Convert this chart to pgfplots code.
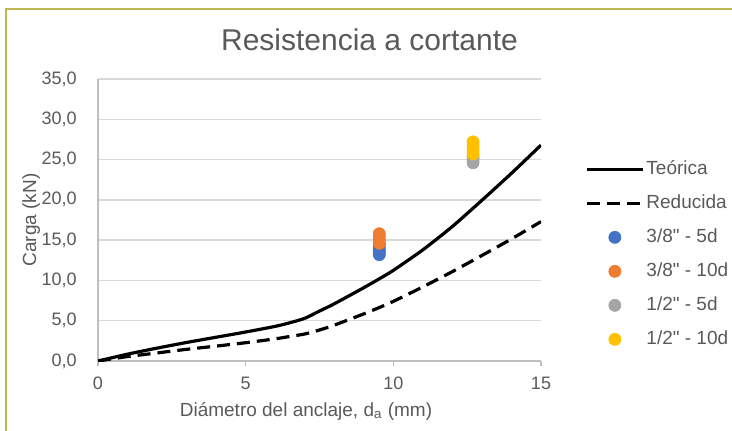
\documentclass[border=0pt]{standalone}
\usepackage{fontspec}
\setmainfont{Liberation Sans}
\usepackage{pgfplots}
\pgfplotsset{compat=1.18}

\definecolor{txtgray}{HTML}{595959}
\definecolor{gridgray}{HTML}{D9D9D9}
\definecolor{axgray}{HTML}{BFBFBF}
\definecolor{framecol}{RGB}{191,183,84}
\definecolor{sblue}{HTML}{4472C4}
\definecolor{sorange}{HTML}{ED7D31}
\definecolor{sgray}{HTML}{A5A5A5}
\definecolor{syellow}{HTML}{FFC000}

\begin{document}
\begin{tikzpicture}
\useasboundingbox (0pt,0pt) rectangle (366pt,215pt);
% chart frame (only top and left edges are inside the picture)
\draw[framecol, line width=1pt] (3pt,-20pt) -- (3pt,210.5pt) -- (400pt,210.5pt);

\begin{axis}[
    at={(49pt,34.5pt)}, anchor=south west,
    scale only axis,
    width=221.5pt, height=141pt,
    xmin=0, xmax=15, ymin=0, ymax=35,
    xtick={0,5,10,15},
    ytick={0,5,...,35},
    axis lines=left,
    axis line style={-, draw=axgray, line width=0.75pt},
    tick align=outside,
    major tick length=2.5pt,
    xtick style={draw=axgray, line width=0.75pt},
    ytick style={draw=none},
    ymajorgrids,
    major grid style={draw=gridgray, line width=0.75pt},
    tick label style={font=\fontsize{9}{10}\selectfont, text=txtgray},
    /pgf/number format/assume math mode=true,
    yticklabel style={/pgf/number format/fixed, /pgf/number format/fixed zerofill,
        /pgf/number format/precision=1, /pgf/number format/use comma,
        inner sep=0pt, anchor=east, xshift=-8pt},
    xticklabel style={inner sep=0pt, text height=6.5pt, text depth=0pt, anchor=north, yshift=-4.8pt},
    xlabel={Diámetro del anclaje, d\textsubscript{a} (mm)},
    ylabel={Carga (kN)},
    label style={font=\fontsize{9.5}{11}\selectfont, text=txtgray},
    xlabel style={at={(axis description cs:0.4695,0)}, anchor=center, yshift=-25pt},
    ylabel style={at={(axis description cs:-0.151,0.5)}, anchor=center},
    legend image code/.code={\draw[mark repeat=2,mark phase=2,#1] plot coordinates {(0pt,0pt)(14pt,0pt)(28pt,0pt)};},
    legend cell align=left,
    legend style={at={(1.099,0.713)}, anchor=north west, draw=none, fill=none,
        inner sep=0pt, font=\fontsize{9.5}{11}\selectfont, text=txtgray,
        row sep=8pt,
        nodes={inner sep=0pt, text height=7pt, text depth=2pt}},
    /tikz/every odd column/.append style={column sep=1pt},
]
\addplot[black, line width=1.6pt, smooth, tension=0.4] coordinates {
    (0,0) (1,0.85) (2,1.6) (3,2.3) (4,2.95) (5,3.6) (6,4.3) (6.5,4.75)
    (7,5.3) (7.5,6.2) (8,7.1) (9,9.1) (9.5,10.15) (10,11.25) (11,13.8)
    (12,16.7) (13,19.95) (14,23.3) (15,26.8)
};
\addlegendentry{Teórica}
\addplot[black, line width=1.6pt, smooth, tension=0.4, dash pattern=on 6.5pt off 3.5pt] coordinates {
    (0,0) (1,0.55) (2,1.0) (3,1.45) (4,1.85) (5,2.27) (6,2.75) (6.5,3.05)
    (7,3.35) (7.5,3.85) (8,4.45) (9,5.85) (9.5,6.6) (10,7.4) (11,9.2)
    (12,11.1) (13,13.1) (14,15.15) (15,17.3)
};
\addlegendentry{Reducida}
\addplot[only marks, mark=*, mark size=3pt, sblue, mark options={draw=none, fill=sblue}] coordinates {
    (9.525,13.2) (9.525,13.5) (9.525,13.8) (9.525,14.2) (9.525,14.5)
};
\addlegendentry{3/8\textquotedbl{} - 5d}
\addplot[only marks, mark=*, mark size=3pt, sorange, mark options={draw=none, fill=sorange}] coordinates {
    (9.525,14.6) (9.525,15.0) (9.525,15.4) (9.525,15.8)
};
\addlegendentry{3/8\textquotedbl{} - 10d}
\addplot[only marks, mark=*, mark size=3pt, sgray, mark options={draw=none, fill=sgray}] coordinates {
    (12.7,24.6) (12.7,25.0) (12.7,25.4)
};
\addlegendentry{1/2\textquotedbl{} - 5d}
\addplot[only marks, mark=*, mark size=3pt, syellow, mark options={draw=none, fill=syellow}] coordinates {
    (12.7,25.7) (12.7,26.2) (12.7,26.7) (12.7,27.2)
};
\addlegendentry{1/2\textquotedbl{} - 10d}
\end{axis}

\node[font=\fontsize{15}{18}\selectfont, text=txtgray] at (184.75pt,195pt) {Resistencia a cortante};
\end{tikzpicture}
\end{document}
